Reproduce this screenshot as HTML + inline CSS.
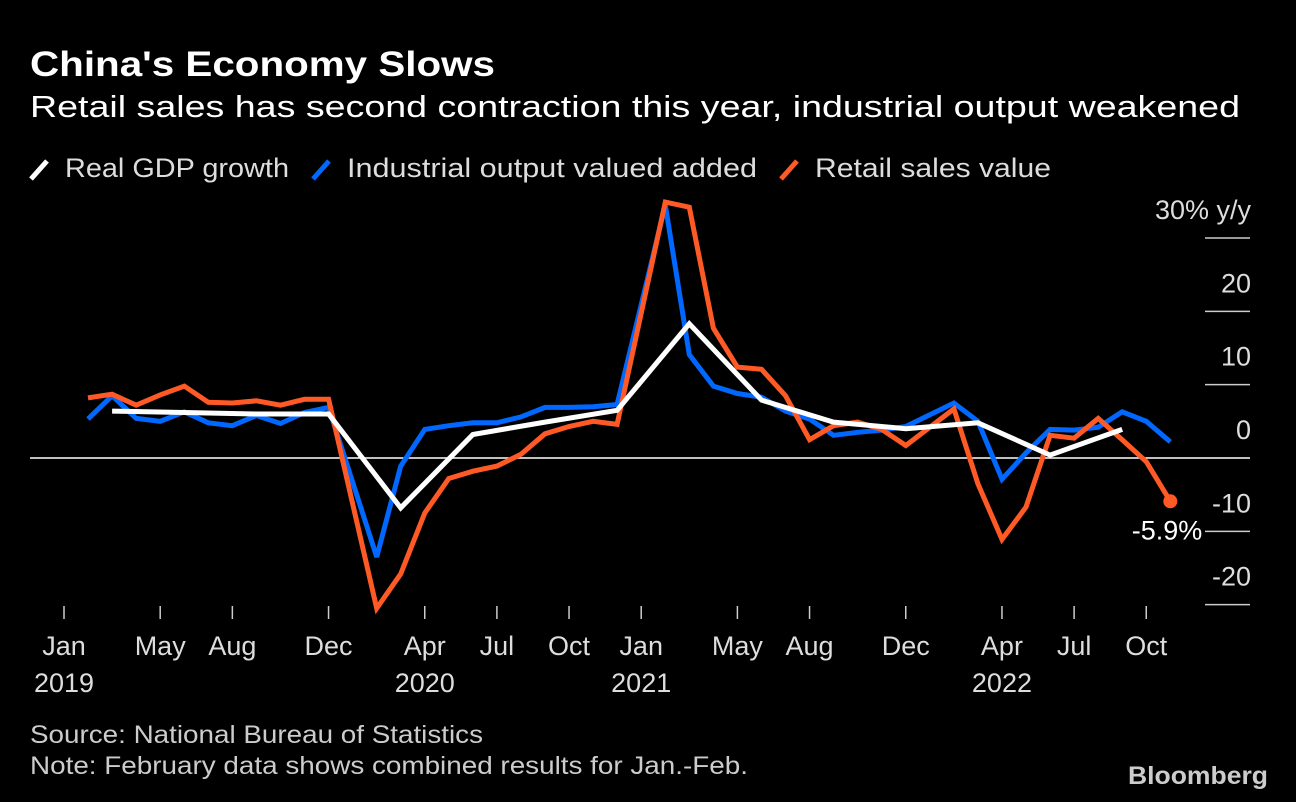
<!DOCTYPE html>
<html><head><meta charset="utf-8">
<style>
html,body{margin:0;padding:0;background:#000;}
svg{display:block;font-family:"Liberation Sans",sans-serif;}
</style></head>
<body>
<svg id="chart" width="1296" height="802" viewBox="0 0 1296 802">
<rect width="1296" height="802" fill="#000"/>
<text x="30" y="76" fill="#fff" font-size="35" font-weight="bold" textLength="465" lengthAdjust="spacingAndGlyphs">China's Economy Slows</text>
<text x="30" y="117" fill="#fff" font-size="31" textLength="1210" lengthAdjust="spacingAndGlyphs">Retail sales has second contraction this year, industrial output weakened</text>
<g>
<g><line x1="31" y1="179" x2="47" y2="161" stroke="#fff" stroke-width="5"/><text x="65" y="177" fill="#ddd" font-size="27" textLength="224" lengthAdjust="spacingAndGlyphs">Real GDP growth</text></g>
<g><line x1="313" y1="179" x2="329" y2="161" stroke="#0068ff" stroke-width="5"/><text x="347" y="177" fill="#ddd" font-size="27" textLength="410" lengthAdjust="spacingAndGlyphs">Industrial output valued added</text></g>
<g><line x1="781" y1="179" x2="797" y2="161" stroke="#ff5a26" stroke-width="5"/><text x="815" y="177" fill="#ddd" font-size="27" textLength="236" lengthAdjust="spacingAndGlyphs">Retail sales value</text></g>
</g>
<g id="axes"></g>
<g id="series"></g>
<text x="30" y="743" fill="#ccc" font-size="25" textLength="453" lengthAdjust="spacingAndGlyphs">Source: National Bureau of Statistics</text>
<text x="30" y="774" fill="#ccc" font-size="25" textLength="718" lengthAdjust="spacingAndGlyphs">Note: February data shows combined results for Jan.-Feb.</text>
<text x="1268" y="784" fill="#ccc" font-size="25" font-weight="bold" text-anchor="end" textLength="140" lengthAdjust="spacingAndGlyphs">Bloomberg</text>
</svg>
<script>
// month index 0 = Jan 2019
const industrialMonths = [1,2,3,4,5,6,7,8,9,10,11, 13,14,15,16,17,18,19,20,21,22,23, 25,26,27,28,29,30,31,32,33,34,35, 37,38,39,40,41,42,43,44,45,46];
const industrialValues = [5.3,8.5,5.4,5.0,6.3,4.8,4.4,5.8,4.7,6.2,6.9, -13.5,-1.1,3.9,4.4,4.8,4.8,5.6,6.9,6.9,7.0,7.3, 34.5,14.1,9.8,8.8,8.3,6.4,5.3,3.1,3.5,3.8,4.3, 7.5,5.0,-2.9,0.7,3.9,3.8,4.2,6.3,5.0,2.2];
const retailMonths = industrialMonths;
const retailValues = [8.2,8.7,7.2,8.6,9.8,7.6,7.5,7.8,7.2,8.0,8.0, -20.5,-15.8,-7.5,-2.8,-1.8,-1.1,0.5,3.3,4.3,5.0,4.6, 34.9,34.2,17.7,12.4,12.1,8.5,2.5,4.4,4.9,3.9,1.7, 6.7,-3.5,-11.1,-6.7,3.1,2.7,5.4,2.5,-0.5,-5.9];
const gdpMonths = [2,5,8,11,14,17,20,23,26,29,32,35,38,41,44];
const gdpValues = [6.4,6.2,6.0,6.0,-6.8,3.2,4.9,6.5,18.3,7.9,4.9,4.0,4.8,0.4,3.9];
const yTicks = [30,20,10,0,-10,-20];
const yTickLabels = ["30% y/y","20","10","0","-10","-20"];
const xTickMonths = [0,4,7,11,15,18,21,24,28,31,35,39,42,45];
const xTickLabels = ["Jan","May","Aug","Dec","Apr","Jul","Oct","Jan","May","Aug","Dec","Apr","Jul","Oct"];
const yearMonths = [0,15,24,39];
const yearLabels = ["2019","2020","2021","2022"];

const NS = "http://www.w3.org/2000/svg";
const xS = m => 64 + 24.05 * m;
const yS = v => 458 - 7.333 * v;
const axes = document.getElementById('axes');
const series = document.getElementById('series');
function mk(tag, attrs, parent){const e=document.createElementNS(NS,tag);for(const k in attrs)e.setAttribute(k,attrs[k]);parent.appendChild(e);return e;}

yTicks.forEach((v,i)=>{
  if(v===0){
    const l=mk('line',{x1:30,x2:1250,y1:yS(0),y2:yS(0),stroke:'#fff','stroke-width':1.5},axes);
    
    
  } else {
    const l=mk('line',{x1:1205,x2:1250,y1:yS(v),y2:yS(v),stroke:'#ccc','stroke-width':1.5},axes);
    
    
  }
  const t=mk('text',{x:1251,y:yS(v)-19,fill:'#ddd','font-size':27,'text-anchor':'end'},axes);
  t.textContent=yTickLabels[i];
  
  
});
xTickMonths.forEach((m,i)=>{
  const l=mk('line',{x1:xS(m),x2:xS(m),y1:606,y2:619,stroke:'#ccc','stroke-width':1.5},axes);
  
  
  const t=mk('text',{x:xS(m),y:655,fill:'#ddd','font-size':27,'text-anchor':'middle'},axes);
  t.textContent=xTickLabels[i];
  
  
});
yearMonths.forEach((m,i)=>{
  const t=mk('text',{x:xS(m),y:692,fill:'#ddd','font-size':27,'text-anchor':'middle'},axes);
  t.textContent=yearLabels[i];
  
  
});

function line(ms, vs, color, name){
  const pts=ms.map((m,i)=>xS(m).toFixed(1)+','+yS(vs[i]).toFixed(1)).join(' ');
  const p=mk('polyline',{points:pts,fill:'none',stroke:color,'stroke-width':5,'stroke-linejoin':'miter','stroke-miterlimit':3},series);
  
  
}
line(industrialMonths, industrialValues, '#0068ff', 'industrial-output-line');
line(retailMonths, retailValues, '#ff5a26', 'retail-sales-line');
line(gdpMonths, gdpValues, '#fff', 'gdp-growth-line');

const li = retailMonths.length-1;
const dot=mk('circle',{cx:xS(retailMonths[li]),cy:yS(retailValues[li]),r:7,fill:'#ff5a26'},series);


const lab=mk('text',{x:xS(retailMonths[li])+32,y:yS(retailValues[li])+38,fill:'#fff','font-size':27,'text-anchor':'end'},series);
lab.textContent=retailValues[li].toFixed(1)+'%';


</script>
</body></html>
